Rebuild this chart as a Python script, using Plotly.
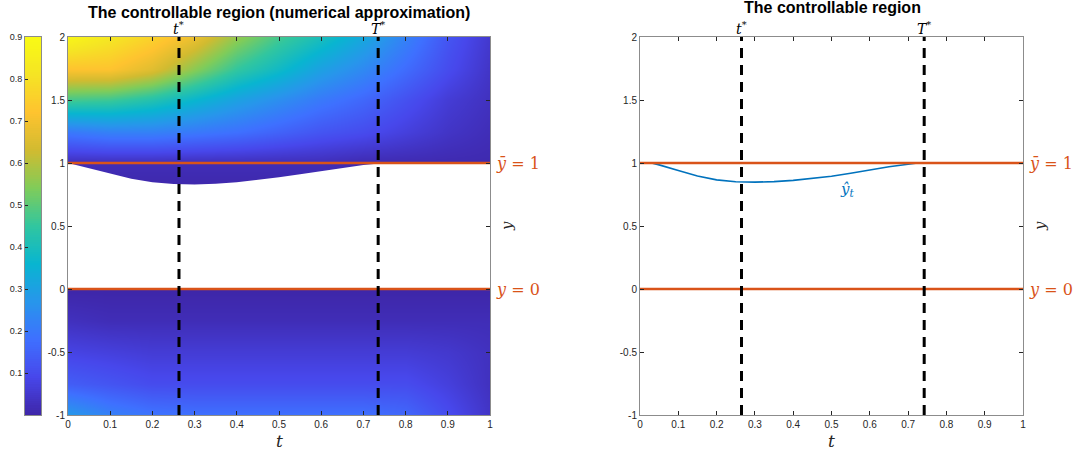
import numpy as np
import plotly.graph_objects as go

# ---------------- data ----------------
# grid for the numerical approximation (left panel)
t_grid = [0.0, 0.1, 0.2, 0.3, 0.4, 0.5, 0.6, 0.7, 0.8, 0.9, 1.0]
y_grid = [-1.0, -0.75, -0.5, -0.25, 0.0, 0.25, 0.5, 0.75, 1.0, 1.25, 1.5, 1.75, 2.0]
z_rows = [
    [0.28, 0.22, 0.19, 0.18, 0.18, 0.18, 0.18, 0.18, 0.16, 0.10, 0.04],   # y=-1
    [0.14, 0.12, 0.10, 0.10, 0.10, 0.10, 0.10, 0.10, 0.10, 0.07, 0.03],   # y=-0.75
    [0.08, 0.07, 0.06, 0.06, 0.06, 0.06, 0.06, 0.06, 0.06, 0.05, 0.03],   # y=-0.5
    [0.03, 0.02, 0.02, 0.02, 0.02, 0.02, 0.02, 0.02, 0.02, 0.02, 0.02],   # y=-0.25
    [0.00, 0.00, 0.00, 0.00, 0.00, 0.00, 0.00, 0.00, 0.00, 0.00, 0.00],   # y=0
    [0.00, 0.00, 0.00, 0.00, 0.00, 0.00, 0.00, 0.00, 0.00, 0.00, 0.00],   # y=0.25
    [0.00, 0.00, 0.00, 0.00, 0.00, 0.00, 0.00, 0.00, 0.00, 0.00, 0.00],   # y=0.5
    [0.00, 0.00, 0.00, 0.00, 0.00, 0.00, 0.00, 0.00, 0.00, 0.00, 0.00],   # y=0.75
    [0.02, 0.02, 0.02, 0.02, 0.02, 0.02, 0.02, 0.01, 0.01, 0.01, 0.01],   # y=1
    [0.20, 0.22, 0.22, 0.20, 0.18, 0.15, 0.12, 0.10, 0.07, 0.04, 0.02],   # y=1.25
    [0.47, 0.46, 0.42, 0.36, 0.30, 0.25, 0.20, 0.16, 0.11, 0.06, 0.03],   # y=1.5
    [0.72, 0.72, 0.66, 0.55, 0.45, 0.38, 0.30, 0.24, 0.17, 0.10, 0.04],   # y=1.75
    [0.88, 0.82, 0.76, 0.68, 0.56, 0.47, 0.40, 0.32, 0.22, 0.12, 0.05],   # y=2
]

# numerically approximated lower boundary of the upper part (left panel)
t_num = [0.0, 0.05, 0.1, 0.15, 0.2, 0.25, 0.3, 0.35, 0.4, 0.45, 0.5, 0.55, 0.6, 0.65, 0.7, 0.75, 1.0]
yhat_num = [1.0, 0.96, 0.915, 0.875, 0.847, 0.833, 0.830, 0.835, 0.848, 0.865, 0.887, 0.910, 0.937, 0.962, 0.985, 1.0, 1.0]

# exact curve y_hat_t (right panel)
t_hat = [0.03, 0.05, 0.1, 0.15, 0.2, 0.25, 0.3, 0.35, 0.4, 0.45, 0.5, 0.55, 0.6, 0.65, 0.7, 0.72, 0.75]
yhat = [1.0, 0.985, 0.94, 0.897, 0.866, 0.851, 0.848, 0.852, 0.862, 0.877, 0.895, 0.918, 0.945, 0.970, 0.990, 0.998, 1.0]

tstar = [0.263, 0.265]     # left, right
Tstar = [0.735, 0.742]     # left, right
ybar = 1.0
ylow = 0.0

cb_ticks = [0.1, 0.2, 0.3, 0.4, 0.5, 0.6, 0.7, 0.8, 0.9]
x_ticks = [0, 0.1, 0.2, 0.3, 0.4, 0.5, 0.6, 0.7, 0.8, 0.9, 1]
y_ticks = [-1, -0.5, 0, 0.5, 1, 1.5, 2]

# ---------------- style ----------------
parula = [
    [0.0, '#3E26A8'], [0.1, '#4747EB'], [0.2, '#3E70FF'], [0.3, '#2796EB'],
    [0.4, '#08B5D0'], [0.5, '#31C69F'], [0.6, '#80CC59'], [0.7, '#D1BB30'],
    [0.8, '#FEC32F'], [0.9, '#F5E424'], [1.0, '#F9FB14'],
]
ORANGE = '#D95319'
BLUE = '#0072BD'
AX = '#262626'
SERIF = 'DejaVu Serif'
SANS = 'Liberation Sans'

W, H = 1078, 457
def px_x(p):
    return p / W
def px_y(p):
    return 1 - p / H

ydom = [px_y(415), px_y(37)]

fig = go.Figure()

# left panel heatmap
fig.add_trace(go.Heatmap(x=t_grid, y=y_grid, z=z_rows, colorscale=parula, zmin=0, zmax=0.9,
                         zsmooth='best', showscale=False, xaxis='x', yaxis='y', hoverinfo='skip'))
# white (uncontrollable) gap
fig.add_trace(go.Scatter(x=t_num + t_num[::-1], y=yhat_num + [ylow] * len(t_num),
                         fill='toself', fillcolor='white', line=dict(width=0),
                         mode='lines', showlegend=False, xaxis='x', yaxis='y', hoverinfo='skip'))

# right panel curve
fig.add_trace(go.Scatter(x=t_hat, y=yhat, mode='lines', line=dict(color=BLUE, width=1.6),
                         showlegend=False, xaxis='x2', yaxis='y2'))

# orange lines & dashed lines on both panels
for xa, ya, ts, Ts in [('x', 'y', tstar[0], Tstar[0]), ('x2', 'y2', tstar[1], Tstar[1])]:
    for yv in [ybar, ylow]:
        fig.add_trace(go.Scatter(x=[0, 1], y=[yv, yv], mode='lines',
                                 line=dict(color=ORANGE, width=2.6), showlegend=False,
                                 xaxis=xa, yaxis=ya))
    for xv in [ts, Ts]:
        fig.add_trace(go.Scatter(x=[xv, xv], y=[-1, 2], mode='lines',
                                 line=dict(color='black', width=3, dash='10px,7px'),
                                 showlegend=False, xaxis=xa, yaxis=ya))

# colorbar drawn as its own heatmap column
cb_vals = list(np.linspace(0, 0.9, 181))
fig.add_trace(go.Heatmap(x=[0], y=cb_vals, z=[[v] for v in cb_vals], colorscale=parula,
                         zmin=0, zmax=0.9, showscale=False, xaxis='x3', yaxis='y3',
                         hoverinfo='skip'))

axis_common = dict(showline=True, linecolor='#8c8c8c', linewidth=1, mirror='ticks',
                   ticks='inside', ticklen=4, tickcolor=AX, showgrid=False, zeroline=False,
                   automargin=False,
                   tickfont=dict(family=SANS, size=10, color=AX))

fig.update_layout(
    width=W, height=H, margin=dict(l=0, r=0, t=0, b=0, autoexpand=False),
    paper_bgcolor='white', plot_bgcolor='white', showlegend=False,
    xaxis=dict(domain=[px_x(68), px_x(490)], range=[0, 1], anchor='y', tickvals=x_ticks,
               ticktext=[f'{v:g}' for v in x_ticks], **axis_common),
    yaxis=dict(domain=ydom, range=[-1, 2], anchor='x', tickvals=y_ticks,
               ticktext=[f'{v:g}' for v in y_ticks], **axis_common),
    xaxis2=dict(domain=[px_x(640), px_x(1023)], range=[0, 1], anchor='y2', tickvals=x_ticks,
                ticktext=[f'{v:g}' for v in x_ticks], **axis_common),
    yaxis2=dict(domain=ydom, range=[-1, 2], anchor='x2', tickvals=y_ticks,
                ticktext=[f'{v:g}' for v in y_ticks], **axis_common),
    xaxis3=dict(domain=[px_x(25), px_x(41)], range=[-0.5, 0.5], anchor='y3',
                showticklabels=False, ticks='', showgrid=False, zeroline=False,
                automargin=False, showline=True, linecolor='#8c8c8c', mirror=True),
    yaxis3=dict(domain=ydom, range=[0, 0.9], anchor='x3', tickvals=cb_ticks,
                ticktext=[f'{v:g}' for v in cb_ticks], ticks='inside', ticklen=3,
                tickcolor=AX, showgrid=False, zeroline=False, showline=True,
                automargin=False, linecolor='#8c8c8c', mirror=True,
                tickfont=dict(family=SANS, size=9, color=AX)),
)

ann = []
ann.append(dict(text='<b>The controllable region (numerical approximation)</b>', xref='paper', yref='paper',
                x=px_x(279), y=px_y(12), xanchor='center', yanchor='middle', showarrow=False,
                font=dict(family=SANS, size=16, color='black')))
ann.append(dict(text='<b>The controllable region</b>', xref='paper', yref='paper',
                x=px_x(832), y=px_y(8), xanchor='center', yanchor='middle', showarrow=False,
                font=dict(family=SANS, size=16, color='black')))
for xa, ya, ts, Ts in [('x', 'y', tstar[0], Tstar[0]), ('x2', 'y2', tstar[1], Tstar[1])]:
    ann.append(dict(text='<i>t</i><sup>*</sup>', xref=xa, yref='paper', x=ts, y=px_y(28),
                    xanchor='center', yanchor='middle', showarrow=False,
                    font=dict(family=SERIF, size=14, color='black')))
    ann.append(dict(text='<i>T</i><sup>*</sup>', xref=xa, yref='paper', x=Ts, y=px_y(28),
                    xanchor='center', yanchor='middle', showarrow=False,
                    font=dict(family=SERIF, size=14, color='black')))
    ann.append(dict(text='<i>ȳ</i> = 1', xref=xa, yref=ya, x=1, y=ybar, xanchor='left',
                    yanchor='middle', xshift=4, showarrow=False,
                    font=dict(family=SERIF, size=16, color=ORANGE)))
    ann.append(dict(text='<i>y</i> = 0', xref=xa, yref=ya, x=1, y=ylow, xanchor='left',
                    yanchor='middle', xshift=4, showarrow=False,
                    font=dict(family=SERIF, size=16, color=ORANGE)))
    ann.append(dict(text='<i>y</i>', xref=xa, yref=ya, x=1, y=0.5, xanchor='center',
                    yanchor='middle', xshift=17, textangle=-90, showarrow=False,
                    font=dict(family=SERIF, size=15, color=AX)))
    ann.append(dict(text='<i>t</i>', xref=xa, yref='paper', x=0.5, y=px_y(441),
                    xanchor='center', yanchor='middle', showarrow=False,
                    font=dict(family=SERIF, size=17, color=AX)))
ann.append(dict(text='<i>ŷ</i><sub><i>t</i></sub>', xref='x2', yref='y2', x=0.54, y=0.79,
                xanchor='center', yanchor='middle', showarrow=False,
                font=dict(family=SERIF, size=15, color=BLUE)))
fig.update_layout(annotations=ann)

fig.write_html('out.html')
